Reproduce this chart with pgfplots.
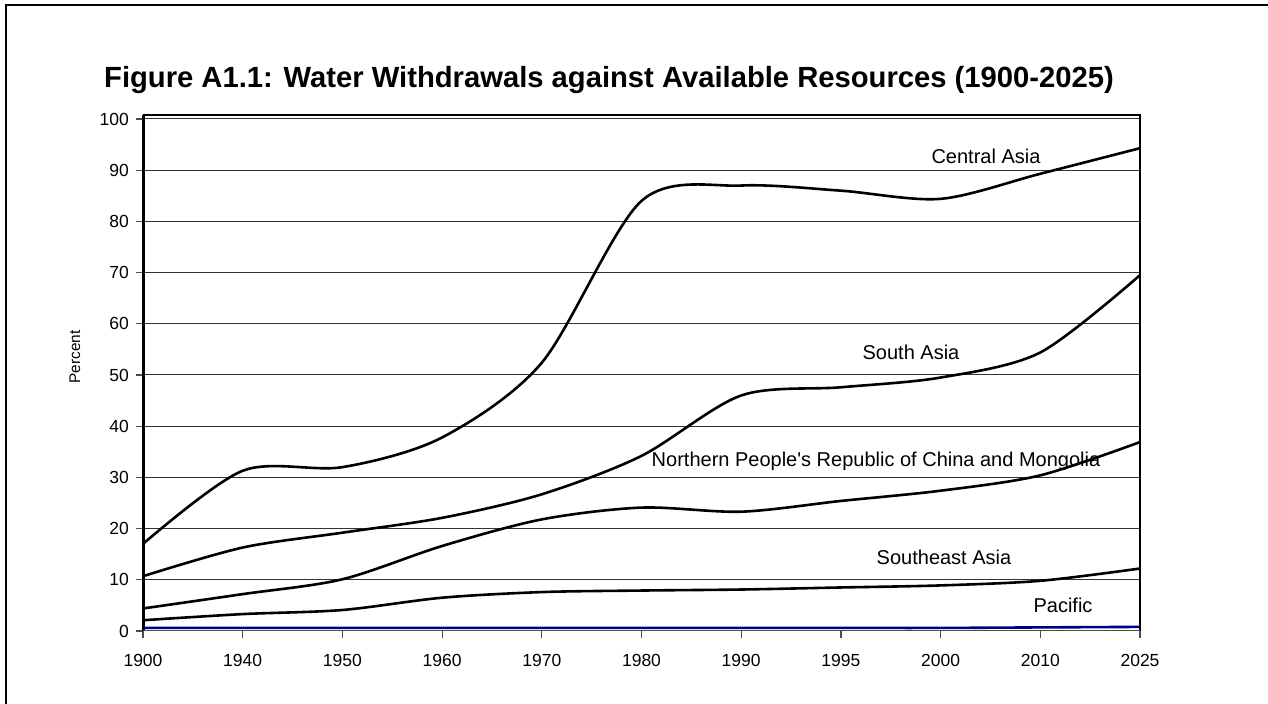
\documentclass[border=0pt]{standalone}
\usepackage{fontspec}
\setmainfont{Liberation Sans}
\usepackage{pgfplots}
\pgfplotsset{compat=1.18}
\definecolor{pacific}{HTML}{000080}
\begin{document}
\begin{tikzpicture}
\begin{scope}[x=0.5pt,y=0.5pt]
\useasboundingbox (0,0) rectangle (1268,704);
% outer frame (only top and left edges visible)
\draw[line width=1pt] (6,0) -- (6,699) -- (1268,699);
\node[anchor=base, font=\fontsize{14.6}{17}\selectfont\bfseries] at (609,616)
  {Figure A1.1: Water Withdrawals against Available Resources (1900-2025)};
\node[rotate=90, font=\fontsize{7.7}{9}\selectfont] at (75,347) {Percent};
\end{scope}
\begin{axis}[
  at={(71.5pt,36.5pt)}, anchor=south west,
  scale only axis, width=498.5pt, height=256pt,
  xmin=0, xmax=10, ymin=0, ymax=100,
  xtick={0,...,10},
  xticklabels={1900,1940,1950,1960,1970,1980,1990,1995,2000,2010,2025},
  ytick={0,10,...,100},
  ymajorgrids, grid style={black!80, line width=0.5pt},
  axis line style={draw=none},
  tick align=outside, major tick length=3.5pt,
  xtick pos=bottom, ytick pos=left,
  tick style={black!70, line width=0.6pt},
  ticklabel style={font=\fontsize{8.75}{10}\selectfont},
  xticklabel style={yshift=-4.5pt},
  /pgf/number format/assume math mode=true,
  clip=false,
]
\addplot[black, line width=1.3pt, smooth] coordinates {
  (0,17) (1,31.3) (2,32) (3,37.8) (4,52.4) (5,84) (6,87) (7,86) (8,84.4) (9,89.3) (10,94.3)};
\addplot[black, line width=1.3pt, smooth] coordinates {
  (0,10.7) (1,16.3) (2,19.2) (3,22.1) (4,26.7) (5,34.2) (6,46) (7,47.6) (8,49.5) (9,54.4) (10,69.5)};
\addplot[black, line width=1.3pt, smooth] coordinates {
  (0,4.4) (1,7.2) (2,10.1) (3,16.6) (4,21.8) (5,24.1) (6,23.3) (7,25.4) (8,27.4) (9,30.4) (10,36.9)};
\addplot[black, line width=1.3pt, smooth] coordinates {
  (0,2.1) (1,3.3) (2,4.1) (3,6.5) (4,7.6) (5,7.9) (6,8.1) (7,8.5) (8,8.9) (9,9.8) (10,12.2)};
\addplot[pacific, line width=1.3pt, smooth] coordinates {
  (0,0.6) (1,0.6) (2,0.6) (3,0.6) (4,0.6) (5,0.6) (6,0.6) (7,0.6) (8,0.6) (9,0.7) (10,0.8)};
% plot area border
\draw[black, line width=1.5pt] (axis cs:0,0) -- (axis cs:0,100.7);
\draw[black, line width=1pt] (axis cs:0,100.7) -- (axis cs:10,100.7) -- (axis cs:10,0);
\draw[black!70, line width=0.5pt] (axis cs:0,0) -- (axis cs:10,0);
\end{axis}
\begin{scope}[x=0.5pt,y=0.5pt,font=\fontsize{10}{12}\selectfont]
\node[anchor=base] at (986,540) {Central Asia};
\node[anchor=base] at (911,344) {South Asia};
\node[anchor=base] at (876,237) {Northern People\textquotesingle s Republic of China and Mongolia};
\node[anchor=base] at (944,139) {Southeast Asia};
\node[anchor=base] at (1063,91) {Pacific};
\end{scope}
\end{tikzpicture}
\end{document}
